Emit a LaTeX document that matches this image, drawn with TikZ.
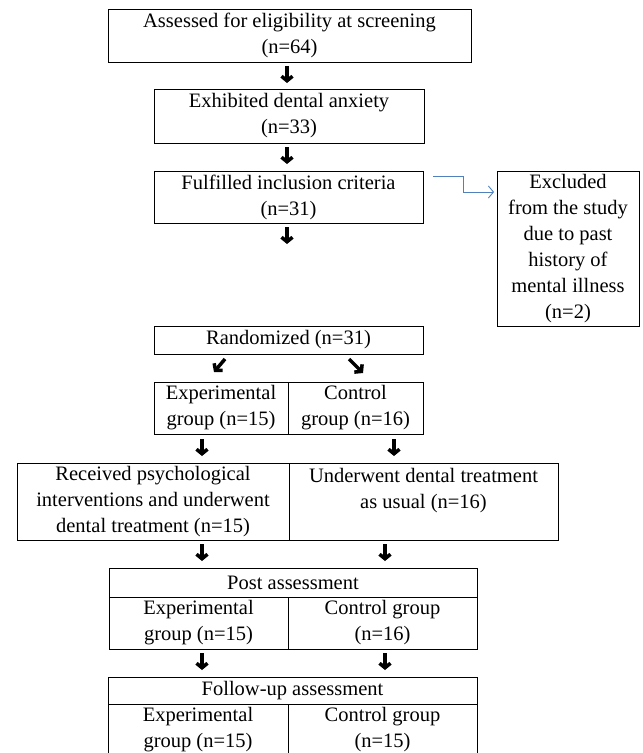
\documentclass[tikz,border=0pt]{standalone}
\usepackage{fontspec}
\setmainfont{Liberation Serif}
\usetikzlibrary{arrows.meta}
\definecolor{officeblue}{RGB}{79,129,189}
\begin{document}
\begin{tikzpicture}[x=1bp,y=-1bp,
  box/.style={draw=black, line width=0.9bp, inner sep=0pt, outer sep=0pt, align=center,
    font=\fontsize{20.5bp}{26bp}\selectfont},
  arr/.style={line width=3.5bp, -{Straight Barb[length=4.5bp,width=11bp,line width=3.5bp]}},
  blue arr/.style={draw=officeblue, line width=0.9bp, -{Straight Barb[length=5bp,width=12bp]}}]
\useasboundingbox (0,0) rectangle (643,753);
% boxes
\node[box, minimum width=363bp, minimum height=53bp] (b1) at (289.5,35.5) {Assessed for eligibility at screening\\(n=64)};
\node[box, minimum width=270bp, minimum height=54bp] (b2) at (289,116) {Exhibited dental anxiety\\(n=33)};
\node[box, minimum width=269bp, minimum height=52bp] (b3) at (288.5,197) {Fulfilled inclusion criteria\\(n=31)};
\node[box, minimum width=142bp, minimum height=155bp] (ex) at (568,248.5) {Excluded\\from the study\\due to past\\history of\\mental illness\\(n=2)};
\node[box, minimum width=269bp, minimum height=28bp] (rand) at (288.5,340) {Randomized (n=31)};
\node[box, minimum width=134bp, minimum height=52bp] (ge) at (221,408) {Experimental\\group (n=15)};
\node[box, minimum width=135bp, minimum height=52bp] (gc) at (355.5,408) {Control\\group (n=16)};
\node[box, minimum width=272bp, minimum height=77bp] (re) at (153,501.5) {Received psychological\\interventions and underwent\\dental treatment (n=15)};
\node[box, minimum width=269bp, minimum height=77bp] (rc) at (423.5,501.5) {Underwent dental treatment\\as usual (n=16)\\\mbox{}};
\node[box, minimum width=368bp, minimum height=29bp] (ph) at (293,582.5) {Post assessment};
\node[box, minimum width=179bp, minimum height=52bp] (pe) at (198.5,623) {Experimental\\group (n=15)};
\node[box, minimum width=189bp, minimum height=52bp] (pc) at (382.5,623) {Control group\\(n=16)};
\node[box, minimum width=369bp, minimum height=27bp] (fh) at (292.5,690.5) {Follow-up assessment};
\node[box, minimum width=180bp, minimum height=52bp] (fe) at (198,730) {Experimental\\group (n=15)};
\node[box, minimum width=189bp, minimum height=52bp] (fc) at (382.5,730) {Control group\\(n=15)};
% arrow end points
\coordinate (a1s) at (287,66);  \coordinate (a1e) at (287,83);
\coordinate (a2s) at (287,147); \coordinate (a2e) at (287,164);
\coordinate (a3s) at (287,227); \coordinate (a3e) at (287,244);
\coordinate (dls) at (225,359); \coordinate (dle) at (214,372);
\coordinate (drs) at (349,359); \coordinate (dre) at (363,373);
\coordinate (g1s) at (202,439); \coordinate (g1e) at (202,456);
\coordinate (g2s) at (394,439); \coordinate (g2e) at (394,456);
\coordinate (r1s) at (202,544); \coordinate (r1e) at (202,561);
\coordinate (r2s) at (385,544); \coordinate (r2e) at (385,561);
\coordinate (p1s) at (202,653); \coordinate (p1e) at (202,670);
\coordinate (p2s) at (385,653); \coordinate (p2e) at (385,670);
\draw[arr] (a1s) -- (a1e);
\draw[arr] (a2s) -- (a2e);
\draw[arr] (a3s) -- (a3e);
\draw[arr] (dls) -- (dle);
\draw[arr] (drs) -- (dre);
\draw[arr] (g1s) -- (g1e);
\draw[arr] (g2s) -- (g2e);
\draw[arr] (r1s) -- (r1e);
\draw[arr] (r2s) -- (r2e);
\draw[arr] (p1s) -- (p1e);
\draw[arr] (p2s) -- (p2e);
% excluded connector
\coordinate (bl1) at (433,176);
\draw[blue arr] (bl1) -- (463,176) -- (463,192) -- ([xshift=-3bp]ex.west |- 0,192);
\end{tikzpicture}
\end{document}
